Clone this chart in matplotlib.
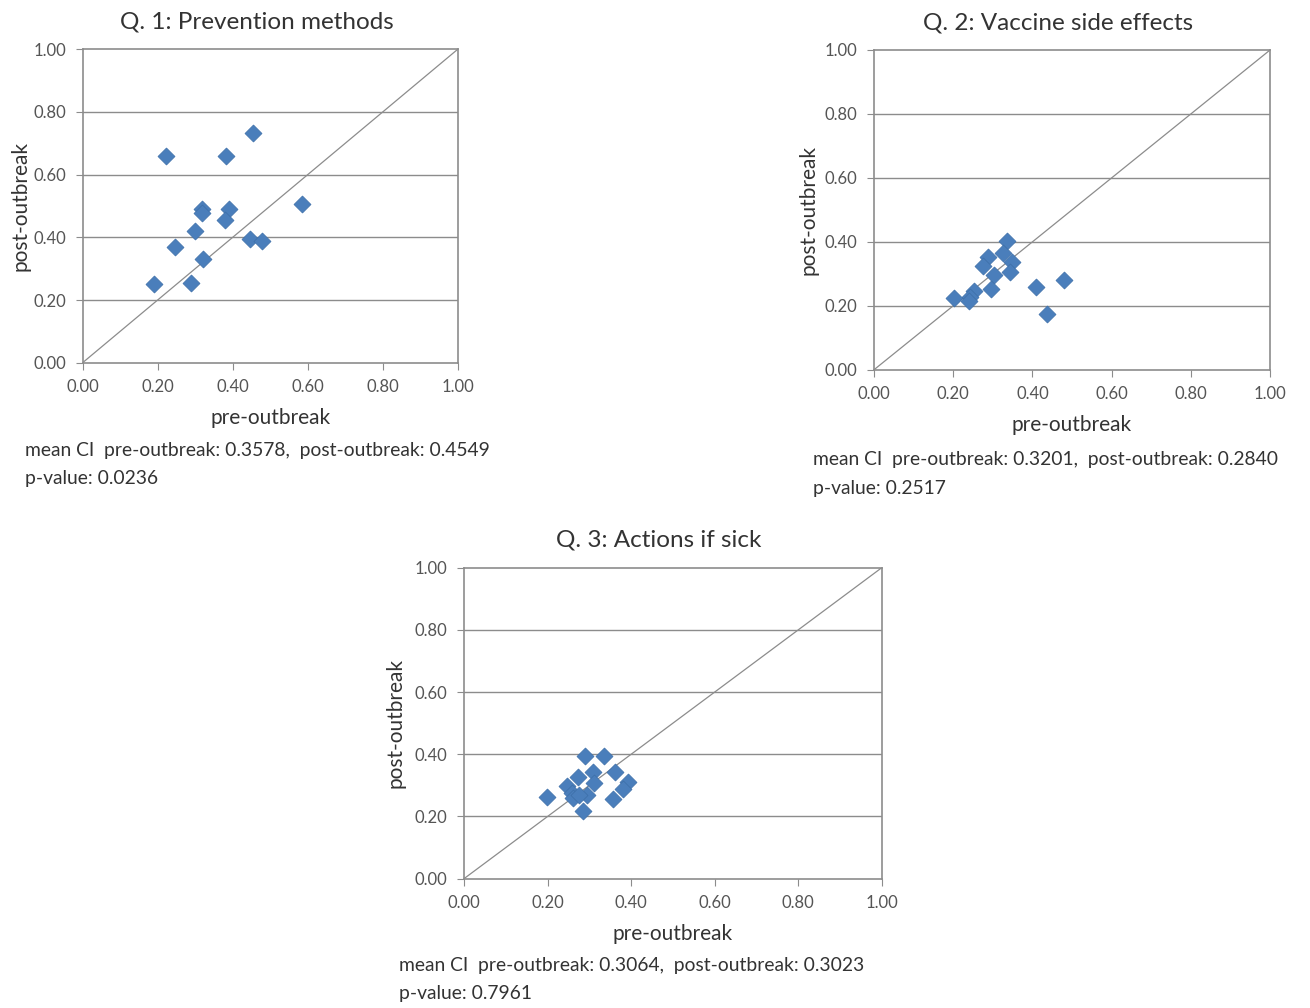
import numpy as np
import matplotlib
matplotlib.use("Agg")
import matplotlib.pyplot as plt

plt.rcParams['font.family'] = ['Lato', 'DejaVu Sans']

# Q.1 prevention methods (pre vs post outbreak CI)
q1_pre = [0.222, 0.381, 0.453, 0.319, 0.319, 0.391, 0.380, 0.584, 0.299, 0.246, 0.446, 0.477, 0.322, 0.190, 0.288]
q1_post = [0.660, 0.661, 0.732, 0.489, 0.477, 0.489, 0.455, 0.505, 0.420, 0.368, 0.395, 0.387, 0.331, 0.250, 0.255]

# Q.2 vaccine side effects
q2_pre = [0.336, 0.326, 0.287, 0.276, 0.348, 0.343, 0.303, 0.295, 0.253, 0.242, 0.240, 0.203, 0.408, 0.480, 0.437]
q2_post = [0.402, 0.364, 0.353, 0.324, 0.338, 0.307, 0.296, 0.251, 0.247, 0.228, 0.215, 0.223, 0.260, 0.280, 0.174]

# Q.3 actions if sick
q3_pre = [0.290, 0.335, 0.308, 0.362, 0.274, 0.246, 0.310, 0.392, 0.381, 0.198, 0.258, 0.262, 0.294, 0.356, 0.286, 0.275]
q3_post = [0.394, 0.394, 0.344, 0.344, 0.328, 0.299, 0.309, 0.312, 0.287, 0.262, 0.277, 0.260, 0.269, 0.255, 0.219, 0.270]

titles = ["Q. 1: Prevention methods", "Q. 2: Vaccine side effects", "Q. 3: Actions if sick"]
stats = [("0.3578", "0.4549", "0.0236"),
         ("0.3201", "0.2840", "0.2517"),
         ("0.3064", "0.3023", "0.7961")]
ticks = [0.0, 0.2, 0.4, 0.6, 0.8, 1.0]

# axes rectangles in figure fraction
rects = [[0.0631, 0.6402, 0.2863, 0.3109],
         [0.6672, 0.6332, 0.3023, 0.3172],
         [0.3542, 0.1283, 0.3189, 0.3085]]

fig = plt.figure(figsize=(13.1, 10.08), dpi=100)
data = [(q1_pre, q1_post), (q2_pre, q2_post), (q3_pre, q3_post)]

for i, (pre, post) in enumerate(data):
    ax = fig.add_axes(rects[i])
    ax.set_xlim(0, 1)
    ax.set_ylim(0, 1)
    for t in ticks[1:-1]:
        ax.axhline(t, color='#8c8c8c', lw=1.0, zorder=1)
    ax.plot([0, 1], [0, 1], color='#8c8c8c', lw=0.9, zorder=2)
    ax.scatter(pre, post, marker='D', s=75, color='#4a7ebb', edgecolors='#3c6ea8',
               linewidths=0.5, zorder=3)
    for s in ax.spines.values():
        s.set_color('#8c8c8c')
        s.set_linewidth(1.2)
    ax.set_xticks(ticks)
    ax.set_yticks(ticks)
    ax.set_xticklabels(["%.2f" % t for t in ticks])
    ax.set_yticklabels(["%.2f" % t for t in ticks])
    ax.tick_params(direction='out', length=5, color='#8c8c8c', labelsize=12,
                   labelcolor='#555555', pad=7)
    ax.set_title(titles[i], fontsize=17.5, color='#333333', pad=15, x=0.465)
    ax.set_xlabel("pre-outbreak", fontsize=15, color='#333333', labelpad=9)
    ax.set_ylabel("post-outbreak", fontsize=15, color='#333333')
    ax.yaxis.set_label_coords(-0.14, 0.5)
    pre_m, post_m, p = stats[i]
    ax.text(-0.155, -0.28, "mean CI  pre-outbreak: %s,  post-outbreak: %s" % (pre_m, post_m),
            transform=ax.transAxes, fontsize=13.9, color='#333333', va='center')
    ax.text(-0.155, -0.37, "p-value: %s" % p,
            transform=ax.transAxes, fontsize=13.9, color='#333333', va='center')

fig.savefig("out.png", dpi=100)
